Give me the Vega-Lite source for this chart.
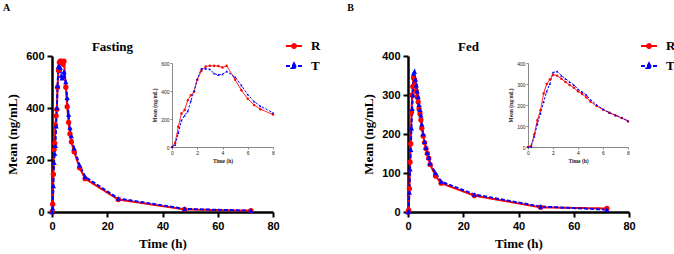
{
  "$schema": "https://vega.github.io/schema/vega-lite/v6.json",
  "width": 674,
  "height": 254,
  "padding": 0,
  "autosize": "none",
  "background": "white",
  "config": {"view": {"stroke": null}},
  "data": {"values": [
    {"panel":"Fasting","series":"R","time":0,"mean":0},
    {"panel":"Fasting","series":"R","time":0.25,"mean":30},
    {"panel":"Fasting","series":"R","time":0.5,"mean":145},
    {"panel":"Fasting","series":"R","time":0.75,"mean":240},
    {"panel":"Fasting","series":"R","time":1,"mean":265},
    {"panel":"Fasting","series":"R","time":1.25,"mean":335},
    {"panel":"Fasting","series":"R","time":1.5,"mean":370},
    {"panel":"Fasting","series":"R","time":1.75,"mean":395},
    {"panel":"Fasting","series":"R","time":2,"mean":480},
    {"panel":"Fasting","series":"R","time":2.33,"mean":545},
    {"panel":"Fasting","series":"R","time":2.67,"mean":575},
    {"panel":"Fasting","series":"R","time":3,"mean":580},
    {"panel":"Fasting","series":"R","time":3.33,"mean":580},
    {"panel":"Fasting","series":"R","time":3.67,"mean":578},
    {"panel":"Fasting","series":"R","time":4,"mean":568},
    {"panel":"Fasting","series":"R","time":4.33,"mean":580},
    {"panel":"Fasting","series":"R","time":5,"mean":480},
    {"panel":"Fasting","series":"R","time":5.5,"mean":405},
    {"panel":"Fasting","series":"R","time":6,"mean":345},
    {"panel":"Fasting","series":"R","time":6.5,"mean":300},
    {"panel":"Fasting","series":"R","time":7,"mean":270},
    {"panel":"Fasting","series":"R","time":8,"mean":232},
    {"panel":"Fasting","series":"R","time":10,"mean":170},
    {"panel":"Fasting","series":"R","time":12,"mean":128},
    {"panel":"Fasting","series":"R","time":24,"mean":48},
    {"panel":"Fasting","series":"R","time":48,"mean":10},
    {"panel":"Fasting","series":"R","time":72,"mean":5},
    {"panel":"Fasting","series":"T","time":0,"mean":0},
    {"panel":"Fasting","series":"T","time":0.25,"mean":15},
    {"panel":"Fasting","series":"T","time":0.5,"mean":100},
    {"panel":"Fasting","series":"T","time":0.75,"mean":190},
    {"panel":"Fasting","series":"T","time":1,"mean":225},
    {"panel":"Fasting","series":"T","time":1.25,"mean":255},
    {"panel":"Fasting","series":"T","time":1.5,"mean":330},
    {"panel":"Fasting","series":"T","time":1.75,"mean":400},
    {"panel":"Fasting","series":"T","time":2,"mean":485},
    {"panel":"Fasting","series":"T","time":2.33,"mean":560},
    {"panel":"Fasting","series":"T","time":2.67,"mean":560},
    {"panel":"Fasting","series":"T","time":3,"mean":555},
    {"panel":"Fasting","series":"T","time":3.33,"mean":525},
    {"panel":"Fasting","series":"T","time":3.67,"mean":515},
    {"panel":"Fasting","series":"T","time":4,"mean":520},
    {"panel":"Fasting","series":"T","time":4.33,"mean":540},
    {"panel":"Fasting","series":"T","time":5,"mean":500},
    {"panel":"Fasting","series":"T","time":5.5,"mean":440},
    {"panel":"Fasting","series":"T","time":6,"mean":375},
    {"panel":"Fasting","series":"T","time":6.5,"mean":325},
    {"panel":"Fasting","series":"T","time":7,"mean":292},
    {"panel":"Fasting","series":"T","time":8,"mean":245},
    {"panel":"Fasting","series":"T","time":10,"mean":180},
    {"panel":"Fasting","series":"T","time":12,"mean":135},
    {"panel":"Fasting","series":"T","time":24,"mean":52},
    {"panel":"Fasting","series":"T","time":48,"mean":12},
    {"panel":"Fasting","series":"T","time":72,"mean":5},
    {"panel":"Fed","series":"R","time":0,"mean":0},
    {"panel":"Fed","series":"R","time":0.25,"mean":5},
    {"panel":"Fed","series":"R","time":0.5,"mean":60},
    {"panel":"Fed","series":"R","time":0.75,"mean":128},
    {"panel":"Fed","series":"R","time":1,"mean":175},
    {"panel":"Fed","series":"R","time":1.25,"mean":255},
    {"panel":"Fed","series":"R","time":1.5,"mean":300},
    {"panel":"Fed","series":"R","time":1.75,"mean":322},
    {"panel":"Fed","series":"R","time":2,"mean":344},
    {"panel":"Fed","series":"R","time":2.33,"mean":340},
    {"panel":"Fed","series":"R","time":2.67,"mean":325},
    {"panel":"Fed","series":"R","time":3,"mean":310},
    {"panel":"Fed","series":"R","time":3.33,"mean":295},
    {"panel":"Fed","series":"R","time":3.67,"mean":282},
    {"panel":"Fed","series":"R","time":4,"mean":265},
    {"panel":"Fed","series":"R","time":4.33,"mean":252},
    {"panel":"Fed","series":"R","time":4.67,"mean":236},
    {"panel":"Fed","series":"R","time":5,"mean":215},
    {"panel":"Fed","series":"R","time":5.5,"mean":195},
    {"panel":"Fed","series":"R","time":6,"mean":178},
    {"panel":"Fed","series":"R","time":6.5,"mean":163},
    {"panel":"Fed","series":"R","time":7,"mean":150},
    {"panel":"Fed","series":"R","time":7.5,"mean":138},
    {"panel":"Fed","series":"R","time":8,"mean":122},
    {"panel":"Fed","series":"R","time":10,"mean":92},
    {"panel":"Fed","series":"R","time":12,"mean":74},
    {"panel":"Fed","series":"R","time":24,"mean":42},
    {"panel":"Fed","series":"R","time":48,"mean":12},
    {"panel":"Fed","series":"R","time":72,"mean":9},
    {"panel":"Fed","series":"T","time":0,"mean":0},
    {"panel":"Fed","series":"T","time":0.25,"mean":2},
    {"panel":"Fed","series":"T","time":0.5,"mean":50},
    {"panel":"Fed","series":"T","time":0.75,"mean":110},
    {"panel":"Fed","series":"T","time":1,"mean":160},
    {"panel":"Fed","series":"T","time":1.25,"mean":215},
    {"panel":"Fed","series":"T","time":1.5,"mean":265},
    {"panel":"Fed","series":"T","time":1.75,"mean":300},
    {"panel":"Fed","series":"T","time":2,"mean":355},
    {"panel":"Fed","series":"T","time":2.33,"mean":360},
    {"panel":"Fed","series":"T","time":2.67,"mean":340},
    {"panel":"Fed","series":"T","time":3,"mean":325},
    {"panel":"Fed","series":"T","time":3.33,"mean":310},
    {"panel":"Fed","series":"T","time":3.67,"mean":295},
    {"panel":"Fed","series":"T","time":4,"mean":275},
    {"panel":"Fed","series":"T","time":4.33,"mean":262},
    {"panel":"Fed","series":"T","time":4.67,"mean":248},
    {"panel":"Fed","series":"T","time":5,"mean":225},
    {"panel":"Fed","series":"T","time":5.5,"mean":200},
    {"panel":"Fed","series":"T","time":6,"mean":180},
    {"panel":"Fed","series":"T","time":6.5,"mean":165},
    {"panel":"Fed","series":"T","time":7,"mean":152},
    {"panel":"Fed","series":"T","time":7.5,"mean":140},
    {"panel":"Fed","series":"T","time":8,"mean":125},
    {"panel":"Fed","series":"T","time":10,"mean":100},
    {"panel":"Fed","series":"T","time":12,"mean":78},
    {"panel":"Fed","series":"T","time":24,"mean":45},
    {"panel":"Fed","series":"T","time":48,"mean":14},
    {"panel":"Fed","series":"T","time":72,"mean":6}
  ]},
  "layer": [
    {
      "transform": [{"filter": "datum.panel === 'Fasting'"}],
      "mark": {"type": "line", "strokeWidth": 2},
      "encoding": {
        "x": {"field": "time", "type": "quantitative", "scale": {"domain": [0, 80], "range": [52, 273], "nice": false, "zero": false},
          "axis": {"orient": "bottom", "offset": -42, "values": [0, 20, 40, 60, 80], "title": "Time (h)", "domainColor": "#000", "domainWidth": 2.5, "tickColor": "#000", "tickWidth": 2, "tickSize": 5, "labelFont": "Liberation Sans", "labelFontWeight": "bold", "labelFontSize": 11, "labelColor": "#000", "labelPadding": 3, "labelFlush": false, "titleFont": "Liberation Serif", "titleFontWeight": "bold", "titleFontSize": 13, "titleColor": "#000", "titlePadding": 6, "grid": false, "zindex": 0}},
        "y": {"field": "mean", "type": "quantitative", "scale": {"domain": [0, 600], "range": [212, 56], "nice": false},
          "axis": {"orient": "left", "offset": -52, "values": [0, 200, 400, 600], "title": "Mean (ng/mL)", "domainColor": "#000", "domainWidth": 2.5, "tickColor": "#000", "tickWidth": 2, "tickSize": 5, "labelFont": "Liberation Sans", "labelFontWeight": "bold", "labelFontSize": 11, "labelColor": "#000", "labelPadding": 3, "labelFlush": false, "titleFont": "Liberation Serif", "titleFontWeight": "bold", "titleFontSize": 13, "titleColor": "#000", "titlePadding": 6, "grid": false, "zindex": 0}},
        "color": {"field": "series", "type": "nominal", "scale": {"domain": ["R", "T"], "range": ["#ff0000", "#0000ff"]},
          "legend": {"orient": "none", "legendX": 285, "legendY": 37, "title": null, "symbolSize": 256, "padding": 0, "rowPadding": 4, "labelOffset": 8, "labelFont": "Liberation Serif", "labelFontWeight": "bold", "labelFontSize": 13, "labelColor": "#000",
            "encode": {"symbols": {"update": {
              "shape": {"signal": "datum.value === 'R' ? 'M-1,0H1M-0.24,0A0.24,0.24,0,1,1,0.24,0A0.24,0.24,0,1,1,-0.24,0Z' : 'M-1,0H1M0,-0.32L0.3,0.24L-0.3,0.24Z'"},
              "fill": {"signal": "datum.value === 'R' ? '#ff0000' : '#0000ff'"},
              "stroke": {"signal": "datum.value === 'R' ? '#ff0000' : '#0000ff'"},
              "strokeDash": {"signal": "datum.value === 'R' ? [1, 0] : [3, 2]"},
              "strokeWidth": {"value": 2},
              "opacity": {"value": 1},
              "fillOpacity": {"value": 1}
            }}}}},
        "strokeDash": {"field": "series", "type": "nominal", "scale": {"domain": ["R", "T"], "range": [[1, 0], [4, 2]]}, "legend": null}
      }
    },
    {
      "transform": [{"filter": "datum.panel === 'Fasting'"}],
      "mark": {"type": "point", "filled": true, "size": 28, "opacity": 1},
      "encoding": {
        "x": {"field": "time", "type": "quantitative", "scale": {"domain": [0, 80], "range": [52, 273], "nice": false, "zero": false},
          "axis": {"orient": "top", "offset": 0, "domain": false, "ticks": false, "labels": false, "grid": false, "title": "Fasting", "titleX": 112, "titleY": 46, "titleAlign": "center", "titleBaseline": "middle", "titleFont": "Liberation Serif", "titleFontWeight": "bold", "titleFontSize": 13, "titleColor": "#000"}},
        "y": {"field": "mean", "type": "quantitative", "scale": {"domain": [0, 600], "range": [212, 56], "nice": false},
          "axis": {"orient": "left", "offset": 0, "domain": false, "ticks": false, "labels": false, "grid": false, "title": "A", "titleAngle": 0, "titleX": 6, "titleY": 7, "titleAlign": "center", "titleBaseline": "middle", "titleFont": "Liberation Serif", "titleFontWeight": "bold", "titleFontSize": 10, "titleColor": "#000"}},
        "color": {"field": "series", "type": "nominal", "scale": {"domain": ["R", "T"], "range": ["#ff0000", "#0000ff"]}, "legend": null},
        "shape": {"field": "series", "type": "nominal", "scale": {"domain": ["R", "T"], "range": ["circle", "triangle-up"]}, "legend": null}
      }
    },
    {
      "transform": [{"filter": "datum.panel === 'Fasting' && datum.time <= 8"}],
      "mark": {"type": "line", "strokeWidth": 1, "point": {"filled": true, "size": 6, "opacity": 1}},
      "encoding": {
        "x": {"field": "time", "type": "quantitative", "scale": {"domain": [0, 8], "range": [172, 273], "nice": false, "zero": false},
          "axis": {"orient": "bottom", "offset": -107, "values": [0, 2, 4, 6, 8], "title": "Time (h)", "domainColor": "#888", "domainWidth": 1, "tickColor": "#888", "tickWidth": 1, "tickSize": 2, "labelFont": "Liberation Sans", "labelFontSize": 5, "labelColor": "#222", "labelPadding": 1, "labelFlush": false, "titleFont": "Liberation Serif", "titleFontWeight": "bold", "titleFontSize": 5.5, "titleColor": "#222", "titlePadding": 3, "grid": false, "zindex": 0}},
        "y": {"field": "mean", "type": "quantitative", "scale": {"domain": [0, 600], "range": [147, 63], "nice": false},
          "axis": {"orient": "left", "offset": -172, "values": [0, 200, 400, 600], "title": "Mean (ng/mL)", "domainColor": "#888", "domainWidth": 1, "tickColor": "#888", "tickWidth": 1, "tickSize": 2, "labelFont": "Liberation Sans", "labelFontSize": 5, "labelColor": "#222", "labelPadding": 1, "labelFlush": false, "titleFont": "Liberation Serif", "titleFontWeight": "bold", "titleFontSize": 5.5, "titleColor": "#222", "titlePadding": 3, "grid": false, "zindex": 0}},
        "color": {"field": "series", "type": "nominal", "scale": {"domain": ["R", "T"], "range": ["#ff0000", "#0000ff"]}, "legend": null},
        "shape": {"field": "series", "type": "nominal", "scale": {"domain": ["R", "T"], "range": ["circle", "triangle-up"]}, "legend": null},
        "strokeDash": {"field": "series", "type": "nominal", "scale": {"domain": ["R", "T"], "range": [[1, 0], [2.5, 1.5]]}, "legend": null}
      }
    },
    {
      "transform": [{"filter": "datum.panel === 'Fed'"}],
      "mark": {"type": "line", "strokeWidth": 2},
      "encoding": {
        "x": {"field": "time", "type": "quantitative", "scale": {"domain": [0, 80], "range": [408, 629], "nice": false, "zero": false},
          "axis": {"orient": "bottom", "offset": -42, "values": [0, 20, 40, 60, 80], "title": "Time (h)", "domainColor": "#000", "domainWidth": 2.5, "tickColor": "#000", "tickWidth": 2, "tickSize": 5, "labelFont": "Liberation Sans", "labelFontWeight": "bold", "labelFontSize": 11, "labelColor": "#000", "labelPadding": 3, "labelFlush": false, "titleFont": "Liberation Serif", "titleFontWeight": "bold", "titleFontSize": 13, "titleColor": "#000", "titlePadding": 6, "grid": false, "zindex": 0}},
        "y": {"field": "mean", "type": "quantitative", "scale": {"domain": [0, 400], "range": [212, 56], "nice": false},
          "axis": {"orient": "left", "offset": -408, "values": [0, 100, 200, 300, 400], "title": "Mean (ng/mL)", "domainColor": "#000", "domainWidth": 2.5, "tickColor": "#000", "tickWidth": 2, "tickSize": 5, "labelFont": "Liberation Sans", "labelFontWeight": "bold", "labelFontSize": 11, "labelColor": "#000", "labelPadding": 3, "labelFlush": false, "titleFont": "Liberation Serif", "titleFontWeight": "bold", "titleFontSize": 13, "titleColor": "#000", "titlePadding": 6, "grid": false, "zindex": 0}},
        "color": {"field": "series", "type": "nominal", "scale": {"domain": ["R", "T"], "range": ["#ff0000", "#0000ff"]},
          "legend": {"orient": "none", "legendX": 640, "legendY": 37, "title": null, "symbolSize": 256, "padding": 0, "rowPadding": 4, "labelOffset": 8, "labelFont": "Liberation Serif", "labelFontWeight": "bold", "labelFontSize": 13, "labelColor": "#000",
            "encode": {"symbols": {"update": {
              "shape": {"signal": "datum.value === 'R' ? 'M-1,0H1M-0.24,0A0.24,0.24,0,1,1,0.24,0A0.24,0.24,0,1,1,-0.24,0Z' : 'M-1,0H1M0,-0.32L0.3,0.24L-0.3,0.24Z'"},
              "fill": {"signal": "datum.value === 'R' ? '#ff0000' : '#0000ff'"},
              "stroke": {"signal": "datum.value === 'R' ? '#ff0000' : '#0000ff'"},
              "strokeDash": {"signal": "datum.value === 'R' ? [1, 0] : [3, 2]"},
              "strokeWidth": {"value": 2},
              "opacity": {"value": 1},
              "fillOpacity": {"value": 1}
            }}}}},
        "strokeDash": {"field": "series", "type": "nominal", "scale": {"domain": ["R", "T"], "range": [[1, 0], [4, 2]]}, "legend": null}
      }
    },
    {
      "transform": [{"filter": "datum.panel === 'Fed'"}],
      "mark": {"type": "point", "filled": true, "size": 28, "opacity": 1},
      "encoding": {
        "x": {"field": "time", "type": "quantitative", "scale": {"domain": [0, 80], "range": [408, 629], "nice": false, "zero": false},
          "axis": {"orient": "top", "offset": 0, "domain": false, "ticks": false, "labels": false, "grid": false, "title": "Fed", "titleX": 468, "titleY": 46, "titleAlign": "center", "titleBaseline": "middle", "titleFont": "Liberation Serif", "titleFontWeight": "bold", "titleFontSize": 13, "titleColor": "#000"}},
        "y": {"field": "mean", "type": "quantitative", "scale": {"domain": [0, 400], "range": [212, 56], "nice": false},
          "axis": {"orient": "left", "offset": 0, "domain": false, "ticks": false, "labels": false, "grid": false, "title": "B", "titleAngle": 0, "titleX": 350, "titleY": 7, "titleAlign": "center", "titleBaseline": "middle", "titleFont": "Liberation Serif", "titleFontWeight": "bold", "titleFontSize": 10, "titleColor": "#000"}},
        "color": {"field": "series", "type": "nominal", "scale": {"domain": ["R", "T"], "range": ["#ff0000", "#0000ff"]}, "legend": null},
        "shape": {"field": "series", "type": "nominal", "scale": {"domain": ["R", "T"], "range": ["circle", "triangle-up"]}, "legend": null}
      }
    },
    {
      "transform": [{"filter": "datum.panel === 'Fed' && datum.time <= 8"}],
      "mark": {"type": "line", "strokeWidth": 1, "point": {"filled": true, "size": 6, "opacity": 1}},
      "encoding": {
        "x": {"field": "time", "type": "quantitative", "scale": {"domain": [0, 8], "range": [528, 628], "nice": false, "zero": false},
          "axis": {"orient": "bottom", "offset": -107, "values": [0, 2, 4, 6, 8], "title": "Time (h)", "domainColor": "#888", "domainWidth": 1, "tickColor": "#888", "tickWidth": 1, "tickSize": 2, "labelFont": "Liberation Sans", "labelFontSize": 5, "labelColor": "#222", "labelPadding": 1, "labelFlush": false, "titleFont": "Liberation Serif", "titleFontWeight": "bold", "titleFontSize": 5.5, "titleColor": "#222", "titlePadding": 3, "grid": false, "zindex": 0}},
        "y": {"field": "mean", "type": "quantitative", "scale": {"domain": [0, 400], "range": [147, 63], "nice": false},
          "axis": {"orient": "left", "offset": -528, "values": [0, 100, 200, 300, 400], "title": "Mean (ng/mL)", "domainColor": "#888", "domainWidth": 1, "tickColor": "#888", "tickWidth": 1, "tickSize": 2, "labelFont": "Liberation Sans", "labelFontSize": 5, "labelColor": "#222", "labelPadding": 1, "labelFlush": false, "titleFont": "Liberation Serif", "titleFontWeight": "bold", "titleFontSize": 5.5, "titleColor": "#222", "titlePadding": 3, "grid": false, "zindex": 0}},
        "color": {"field": "series", "type": "nominal", "scale": {"domain": ["R", "T"], "range": ["#ff0000", "#0000ff"]}, "legend": null},
        "shape": {"field": "series", "type": "nominal", "scale": {"domain": ["R", "T"], "range": ["circle", "triangle-up"]}, "legend": null},
        "strokeDash": {"field": "series", "type": "nominal", "scale": {"domain": ["R", "T"], "range": [[1, 0], [2.5, 1.5]]}, "legend": null}
      }
    }
  ],
  "resolve": {
    "scale": {"x": "independent", "y": "independent", "color": "independent", "shape": "independent", "strokeDash": "independent"},
    "axis": {"x": "independent", "y": "independent"},
    "legend": {"color": "independent", "shape": "independent", "strokeDash": "independent"}
  }
}
